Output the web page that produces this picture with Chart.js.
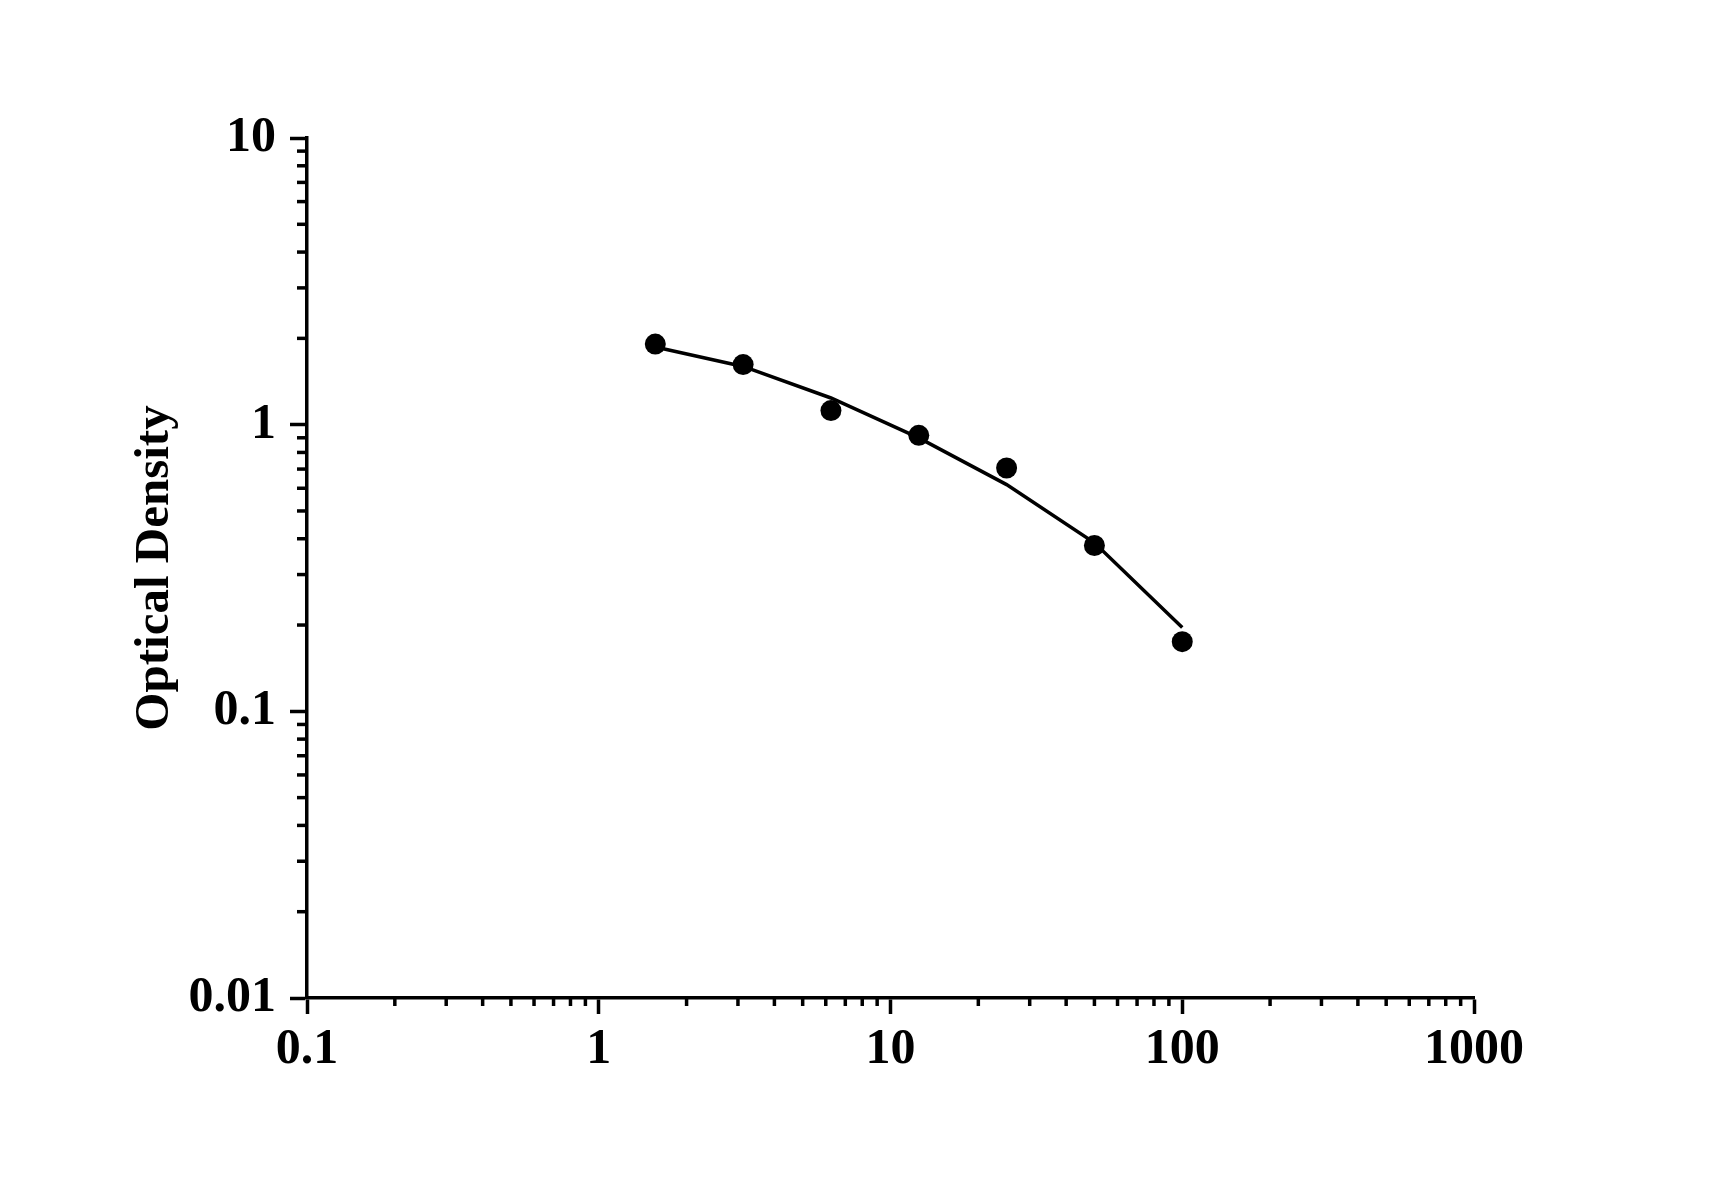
<!DOCTYPE html>
<html>
<head>
<meta charset="utf-8">
<script src="https://cdn.jsdelivr.net/npm/chart.js@4.4.1/dist/chart.umd.min.js"></script>
<style>
  html, body { margin: 0; padding: 0; background: #fff; }
  canvas { display: block; }
</style>
</head>
<body>
<canvas id="chart" width="1712" height="1196" style="width:1712px;height:1196px"></canvas>
<script>
// standard concentrations and optical densities
const concentrations = [1.5625, 3.125, 6.25, 12.5, 25, 50, 100];
const odMeasured = [1.91, 1.62, 1.12, 0.918, 0.706, 0.379, 0.175];
const odFitted = [1.865, 1.596, 1.239, 0.899, 0.618, 0.387, 0.196];

const xTicks = [0.1, 1, 10, 100, 1000];
const xTickLabels = ['0.1', '1', '10', '100', '1000'];
const yTicks = [0.01, 0.1, 1, 10];
const yTickLabels = ['0.01', '0.1', '1', '10'];

const tickFont = { family: 'Liberation Serif', size: 50, weight: 'bold' };

// small ticks at 2..9 of every decade, placed with the scale itself
const minorTicks = {
    id: 'minorTicks',
    afterDraw(chart) {
        const ctx = chart.ctx;
        ctx.save();
        ctx.strokeStyle = '#000';
        ctx.lineWidth = 3.5;
        ['x', 'y'].forEach(id => {
            const s = chart.scales[id];
            const decades = id === 'x' ? xTicks : yTicks;
            for (let i = 0; i < decades.length - 1; i++) {
                for (let m = 2; m <= 9; m++) {
                    const p = s.getPixelForValue(m * decades[i]);
                    ctx.beginPath();
                    if (id === 'x') {
                        ctx.moveTo(p, s.top);
                        ctx.lineTo(p, s.top + 8);
                    } else {
                        ctx.moveTo(s.right, p);
                        ctx.lineTo(s.right - 10, p);
                    }
                    ctx.stroke();
                }
            }
        });
        ctx.restore();
    }
};

const ctx = document.getElementById('chart').getContext('2d');
new Chart(ctx, {
    type: 'scatter',
    data: {
        datasets: [{
            label: 'fit',
            data: concentrations.map((c, i) => ({ x: c, y: odFitted[i] })),
            showLine: true,
            borderColor: '#000',
            borderWidth: 3.5,
            pointRadius: 0,
            tension: 0
        }, {
            label: 'measured',
            data: concentrations.map((c, i) => ({ x: c, y: odMeasured[i] })),
            showLine: false,
            backgroundColor: '#000',
            borderColor: '#000',
            pointRadius: 10.5,
            pointBorderWidth: 0
        }]
    },
    options: {
        responsive: false,
        animation: false,
        devicePixelRatio: 1,
        layout: { padding: { left: 0, top: 138, right: 238, bottom: 0 } },
        plugins: {
            legend: { display: false },
            tooltip: { enabled: false }
        },
        scales: {
            x: {
                type: 'logarithmic',
                min: 0.1,
                max: 1000,
                afterBuildTicks: s => { s.ticks = xTicks.map(v => ({ value: v })); },
                afterFit: s => { s.height = 198; },
                ticks: {
                    autoSkip: false,
                    maxRotation: 0,
                    color: '#000',
                    font: tickFont,
                    padding: 6,
                    callback: (v, i) => xTickLabels[i]
                },
                grid: {
                    drawOnChartArea: false,
                    tickLength: 16,
                    tickWidth: 3.5,
                    tickColor: '#000'
                },
                border: { display: true, color: '#000', width: 3.5 }
            },
            y: {
                type: 'logarithmic',
                min: 0.01,
                max: 10,
                afterBuildTicks: s => { s.ticks = yTicks.map(v => ({ value: v })); },
                afterFit: s => { s.width = 307; },
                ticks: {
                    autoSkip: false,
                    color: '#000',
                    font: tickFont,
                    padding: 14,
                    callback: (v, i) => yTickLabels[i]
                },
                grid: {
                    drawOnChartArea: false,
                    tickLength: 17,
                    tickWidth: 3.5,
                    tickColor: '#000'
                },
                border: { display: true, color: '#000', width: 3.5 },
                title: {
                    display: true,
                    text: 'Optical Density',
                    color: '#000',
                    font: { family: 'Liberation Serif', size: 49, weight: 'bold' },
                    padding: { top: 126, bottom: 0 }
                }
            }
        }
    },
    plugins: [minorTicks]
});
</script>
</body>
</html>
